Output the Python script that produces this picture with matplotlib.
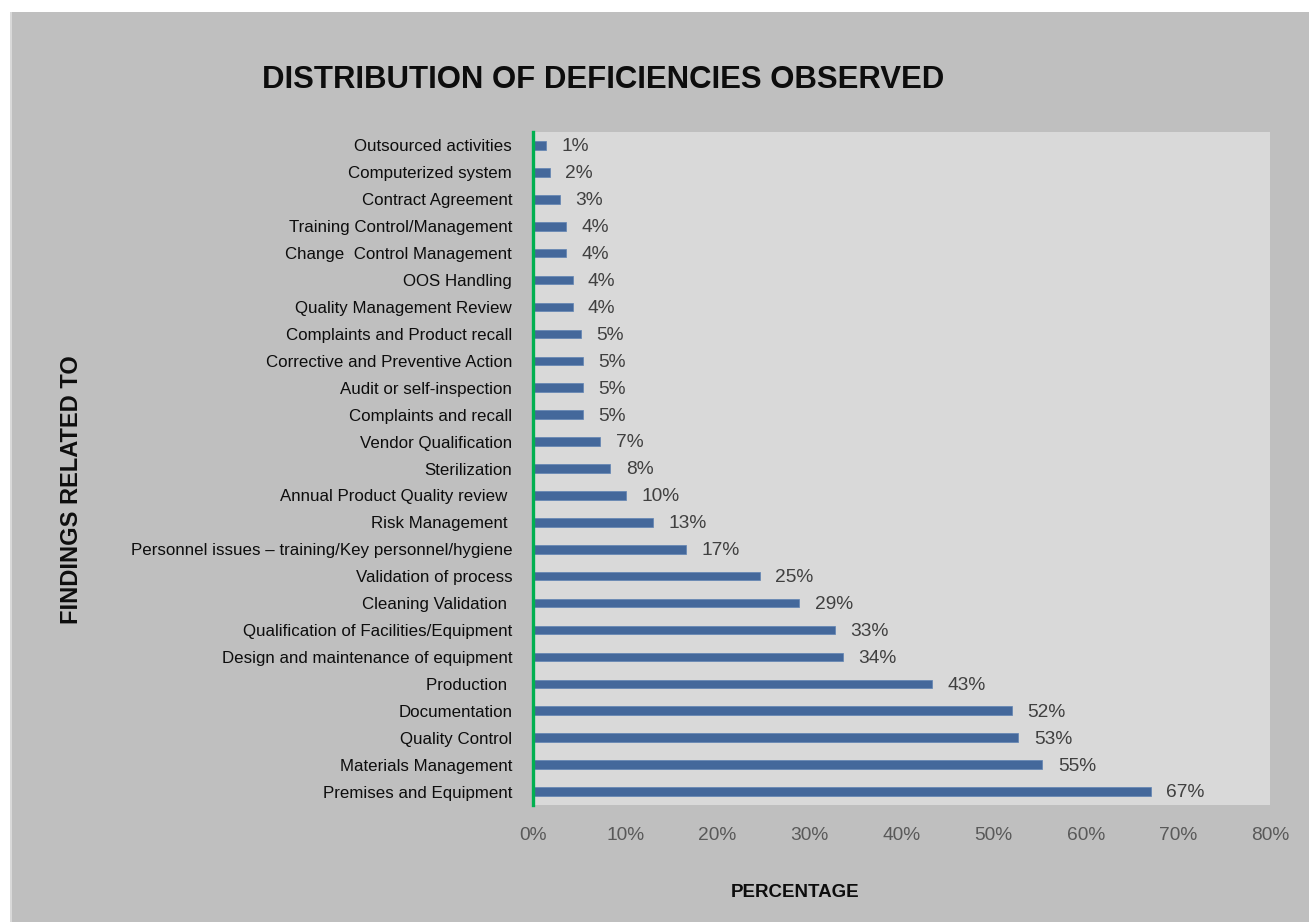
import matplotlib
matplotlib.use("Agg")
import matplotlib.pyplot as plt
from matplotlib import font_manager
from matplotlib.patches import Rectangle

# ---- data -------------------------------------------------------------
categories = [
    "Premises and Equipment",
    "Materials Management",
    "Quality Control",
    "Documentation",
    "Production ",
    "Design and maintenance of equipment",
    "Qualification of Facilities/Equipment",
    "Cleaning Validation ",
    "Validation of process",
    "Personnel issues \u2013 training/Key personnel/hygiene",
    "Risk Management ",
    "Annual Product Quality review ",
    "Sterilization",
    "Vendor Qualification",
    "Complaints and recall",
    "Audit or self-inspection",
    "Corrective and Preventive Action",
    "Complaints and Product recall",
    "Quality Management Review",
    "OOS Handling",
    "Change  Control Management",
    "Training Control/Management",
    "Contract Agreement",
    "Computerized system",
    "Outsourced activities",
]
percent = [67.1, 55.3, 52.7, 52.0, 43.3, 33.6, 32.8, 28.9, 24.6, 16.6,
           13.0, 10.1, 8.4, 7.3, 5.4, 5.4, 5.4, 5.2, 4.3, 4.3,
           3.6, 3.6, 2.9, 1.8, 1.4]
x_ticks = [0, 10, 20, 30, 40, 50, 60, 70, 80]

title = "DISTRIBUTION OF DEFICIENCIES OBSERVED"
x_label = "PERCENTAGE"
y_label = "FINDINGS RELATED TO"

# ---- fonts ------------------------------------------------------------
available = {f.name for f in font_manager.fontManager.ttflist}
base = "Liberation Sans" if "Liberation Sans" in available else "DejaVu Sans"
plt.rcParams["font.family"] = [base, "DejaVu Sans"]

# ---- figure -----------------------------------------------------------
W, H = 1309, 922
fig = plt.figure(figsize=(W / 100, H / 100), dpi=100, facecolor="white")

# grey chart panel with a thin light rim on the left
fig.patches.append(Rectangle((10 / W, 0), 1 - 10 / W, 1 - 12 / H,
                             transform=fig.transFigure, facecolor="#bfbfbf",
                             edgecolor="none", zorder=-10))
fig.patches.append(Rectangle((10 / W, 0), 2 / W, 1 - 12 / H,
                             transform=fig.transFigure, facecolor="#d9d9d9",
                             edgecolor="none", zorder=-9))

left, right, top, bottom = 533, 1270, 132, 805
ax = fig.add_axes([left / W, 1 - bottom / H, (right - left) / W, (bottom - top) / H])
ax.set_zorder(1)
ax.set_facecolor("#d9d9d9")

ypos = list(range(len(categories)))
ax.barh(ypos, percent, height=0.32, color="#44689b", edgecolor="#5f83b3",
        linewidth=0.5, zorder=3)

for y, v in zip(ypos, percent):
    ax.annotate(f"{v:.0f}%", xy=(v, y), xytext=(11, -1), textcoords="offset points",
                ha="left", va="center", fontsize=13.8, color="#404040")

ax.set_xlim(0, 80)
ax.set_ylim(-0.5, len(categories) - 0.5)
ax.set_xticks(x_ticks)
ax.set_xticklabels([f"{t}%" for t in x_ticks], fontsize=13.8, color="#595959")
ax.set_yticks(ypos)
ax.set_yticklabels(categories, fontsize=12.2, color="#0d0d0d")
ax.tick_params(axis="x", length=0, pad=16)
ax.tick_params(axis="y", length=0, pad=15)

for s in ax.spines.values():
    s.set_visible(False)
ax.axvline(0, color="#00b050", linewidth=2.4, zorder=4, clip_on=False)

fig.text(603 / W, 1 - 80 / H, title, ha="center", va="center",
         fontsize=22.4, fontweight="bold", color="#0d0d0d")
fig.text(795 / W, 1 - 892 / H, x_label, ha="center", va="center",
         fontsize=13.5, fontweight="bold", color="#0d0d0d")
fig.text(72 / W, 1 - 490 / H, y_label, ha="center", va="center", rotation=90,
         fontsize=17, fontweight="bold", color="#0d0d0d")

fig.savefig("out.png", dpi=100, facecolor="white")
